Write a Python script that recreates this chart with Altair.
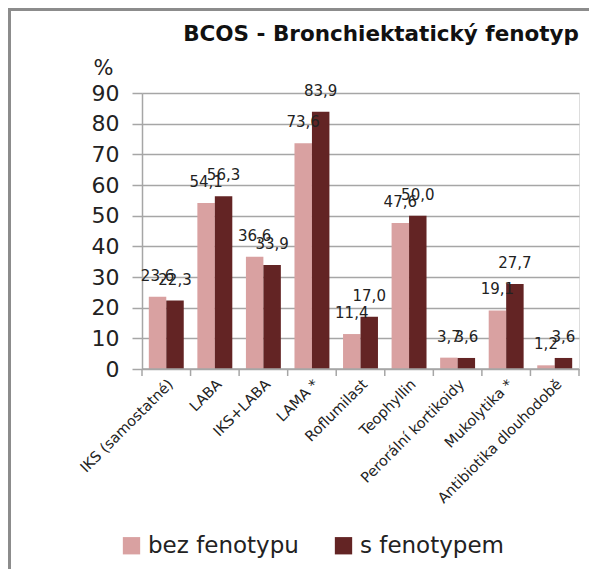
import altair as alt
import pandas as pd

categories = ["IKS (samostatné)", "LABA", "IKS+LABA", "LAMA *", "Roflumilast",
              "Teophyllin", "Perorální kortikoidy", "Mukolytika *", "Antibiotika dlouhodobě"]
series_names = ["bez fenotypu", "s fenotypem"]
bez_fenotypu = [23.6, 54.1, 36.6, 73.6, 11.4, 47.6, 3.7, 19.1, 1.2]
s_fenotypem = [22.3, 56.3, 33.9, 83.9, 17.0, 50.0, 3.6, 27.7, 3.6]
y_ticks = [0, 10, 20, 30, 40, 50, 60, 70, 80, 90]
colors = ["#d9a1a1", "#632424"]

rows = []
for c, a, b in zip(categories, bez_fenotypu, s_fenotypem):
    rows.append({"cat": c, "series": series_names[0], "value": a})
    rows.append({"cat": c, "series": series_names[1], "value": b})
df = pd.DataFrame(rows)
df["label"] = df["value"].map(lambda v: f"{v:.1f}".replace(".", ","))
cat_df = pd.DataFrame({"cat": categories})

FONT = "DejaVu Sans"
W, H = 437, 276
GRID = "#a6a6a6"
TXT = "#222222"

x_enc = alt.X("cat:N", sort=categories,
              scale=alt.Scale(paddingInner=0, paddingOuter=0),
              axis=alt.Axis(title=None, labelAngle=-45, labelFontSize=14.5, labelFont=FONT,
                            labelColor=TXT, ticks=False, domain=False, labelPadding=8,
                            labelLimit=300))
xo_enc = alt.XOffset("series:N", sort=series_names,
                     scale=alt.Scale(paddingInner=0, paddingOuter=0.39))
y_enc = alt.Y("value:Q", scale=alt.Scale(domain=[0, 90], nice=False),
              axis=alt.Axis(values=y_ticks, title="%", titleAngle=0, titleX=-39, titleY=-25,
                            titleFontSize=21, titleFont=FONT, titleFontWeight="normal",
                            titleColor=TXT, titleAlign="center", titleBaseline="middle",
                            labelFontSize=22, labelFont=FONT, labelColor=TXT, labelOverlap=False,
                            tickSize=10, tickColor=GRID, tickWidth=1.5, labelPadding=13,
                            domainColor=GRID, domainWidth=1.5,
                            grid=True, gridColor=GRID, gridWidth=1.5))

bars = alt.Chart(df).mark_bar().encode(
    x=x_enc,
    xOffset=xo_enc,
    y=y_enc,
    color=alt.Color("series:N", sort=series_names,
                    scale=alt.Scale(domain=series_names, range=colors),
                    legend=alt.Legend(title=None, orient="none", direction="horizontal",
                                      legendX=-22, legendY=441, symbolType="square",
                                      symbolSize=300, symbolStrokeWidth=0,
                                      labelFontSize=23, labelFont=FONT, labelColor=TXT,
                                      columnPadding=33, labelOffset=5, labelLimit=300)),
)

texts = alt.Chart(df).mark_text(fontSize=15, font=FONT, color=TXT,
                                baseline="middle", dy=-21).encode(
    x=x_enc,
    xOffset=xo_enc,
    y=y_enc,
    text="label:N",
)

ticks = alt.Chart(cat_df).mark_rule(color=GRID, strokeWidth=1.5).encode(
    x=alt.X("cat:N", sort=categories, bandPosition=0),
    y=alt.value(H), y2=alt.value(H + 7),
)
end_tick = alt.Chart(cat_df.head(1)).mark_rule(color=GRID, strokeWidth=1.5).encode(
    x=alt.value(W), y=alt.value(H), y2=alt.value(H + 7),
)
base_line = alt.Chart(cat_df.head(1)).mark_rule(color=GRID, strokeWidth=1.5).encode(
    x=alt.value(0), x2=alt.value(W), y=alt.value(H),
)
frame_left = alt.Chart(cat_df.head(1)).mark_rule(color="#8c8c8c", strokeWidth=3).encode(
    x=alt.value(-132.5), y=alt.value(-85), y2=alt.value(500),
)
frame_top = alt.Chart(cat_df.head(1)).mark_rule(color="#8c8c8c", strokeWidth=3).encode(
    x=alt.value(-134), x2=alt.value(460), y=alt.value(-83.5),
)

chart = alt.layer(bars, texts, ticks, end_tick, base_line, frame_left, frame_top).properties(
    width=W, height=H,
    padding={"left": 134, "top": 85, "right": 10, "bottom": 200},
    autosize=alt.AutoSizeParams(type="none"),
    title=alt.TitleParams("BCOS - Bronchiektatický fenotyp", anchor="end", frame="group",
                          fontSize=21.5, font=FONT, fontWeight="bold", color="#111111",
                          baseline="alphabetic", offset=0, dy=56),
).configure_view(stroke=None).configure(background="white")

chart.save("out.html", embed_options={"renderer": "svg", "actions": False})
